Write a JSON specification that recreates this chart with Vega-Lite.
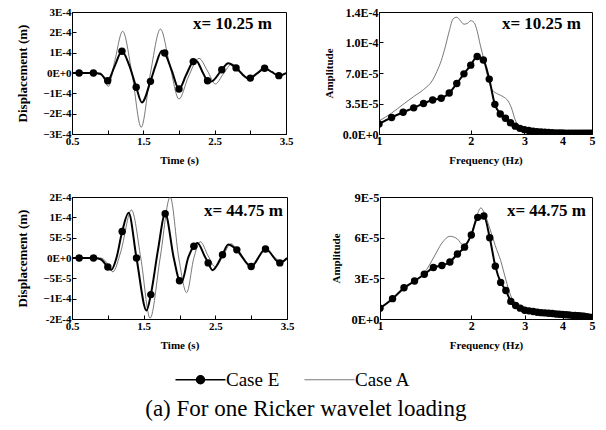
{
  "$schema": "https://vega.github.io/schema/vega-lite/v6.json",
  "padding": {"left": 16, "top": 5, "right": 8, "bottom": 6},
  "background": "white",
  "config": {
    "view": {"stroke": "black", "strokeWidth": 1},
    "axis": {"grid": false, "domainColor": "black", "tickColor": "black", "tickSize": -4, "labelPadding": 5, "labelFont": "Liberation Serif", "labelFontWeight": "bold", "labelFontSize": 11, "labelColor": "black", "titleFont": "Liberation Serif", "titleFontWeight": "bold", "titleFontSize": 11, "titleColor": "black", "labelOverlap": false, "labelFlush": false},
    "legend": {"orient": "none", "legendX": 119, "legendY": 358, "direction": "horizontal", "title": null, "labelFont": "Liberation Serif", "labelFontSize": 19, "labelColor": "black", "symbolSize": 2500, "symbolType": "M-1,0L1,0", "labelOffset": 16, "columnPadding": 22}
  },
  "datasets": {
    "d1": [
      {"t":0.5,"v":0,"case":"Case E"},{"t":0.6,"v":0,"case":"Case E","m":1},{"t":0.8,"v":0,"case":"Case E","m":1},{"t":0.9,"v":-0.05e-4,"case":"Case E"},{"t":1.0,"v":-0.38e-4,"case":"Case E","m":1},{"t":1.1,"v":0.35e-4,"case":"Case E"},{"t":1.2,"v":1.07e-4,"case":"Case E","m":1},{"t":1.3,"v":0.4e-4,"case":"Case E"},{"t":1.4,"v":-0.7e-4,"case":"Case E","m":1},{"t":1.48,"v":-1.45e-4,"case":"Case E"},{"t":1.6,"v":-0.41e-4,"case":"Case E","m":1},{"t":1.67,"v":0.35e-4,"case":"Case E"},{"t":1.76,"v":1.1e-4,"case":"Case E"},{"t":1.8,"v":0.98e-4,"case":"Case E","m":1},{"t":1.9,"v":0.1e-4,"case":"Case E"},{"t":2.0,"v":-0.79e-4,"case":"Case E","m":1},{"t":2.1,"v":-0.1e-4,"case":"Case E"},{"t":2.2,"v":0.56e-4,"case":"Case E","m":1},{"t":2.24,"v":0.6e-4,"case":"Case E"},{"t":2.33,"v":0.05e-4,"case":"Case E"},{"t":2.4,"v":-0.38e-4,"case":"Case E","m":1},{"t":2.45,"v":-0.42e-4,"case":"Case E"},{"t":2.6,"v":0.16e-4,"case":"Case E","m":1},{"t":2.69,"v":0.48e-4,"case":"Case E"},{"t":2.8,"v":0.25e-4,"case":"Case E","m":1},{"t":2.97,"v":-0.27e-4,"case":"Case E"},{"t":3.0,"v":-0.25e-4,"case":"Case E","m":1},{"t":3.1,"v":0,"case":"Case E"},{"t":3.2,"v":0.23e-4,"case":"Case E","m":1},{"t":3.3,"v":0.05e-4,"case":"Case E"},{"t":3.4,"v":-0.13e-4,"case":"Case E","m":1},{"t":3.5,"v":0,"case":"Case E"},
      {"t":0.5,"v":0,"case":"Case A"},{"t":0.9,"v":0,"case":"Case A"},{"t":1.01,"v":-0.66e-4,"case":"Case A"},{"t":1.1,"v":0.6e-4,"case":"Case A"},{"t":1.21,"v":2.05e-4,"case":"Case A"},{"t":1.34,"v":0,"case":"Case A"},{"t":1.47,"v":-2.67e-4,"case":"Case A"},{"t":1.6,"v":0,"case":"Case A"},{"t":1.74,"v":2.16e-4,"case":"Case A"},{"t":1.87,"v":0.4e-4,"case":"Case A"},{"t":2.0,"v":-1.28e-4,"case":"Case A"},{"t":2.13,"v":-0.2e-4,"case":"Case A"},{"t":2.28,"v":0.72e-4,"case":"Case A"},{"t":2.4,"v":0.1e-4,"case":"Case A"},{"t":2.51,"v":-0.54e-4,"case":"Case A"},{"t":2.62,"v":-0.05e-4,"case":"Case A"},{"t":2.74,"v":0.44e-4,"case":"Case A"},{"t":2.87,"v":0.05e-4,"case":"Case A"},{"t":3.0,"v":-0.3e-4,"case":"Case A"},{"t":3.1,"v":-0.05e-4,"case":"Case A"},{"t":3.21,"v":0.2e-4,"case":"Case A"},{"t":3.3,"v":0.05e-4,"case":"Case A"},{"t":3.4,"v":-0.1e-4,"case":"Case A"},{"t":3.5,"v":0,"case":"Case A"}
    ],
    "d2": [
      {"f":1.0,"a":1.15e-5,"case":"Case E"},{"f":1.1,"a":1.9e-5,"case":"Case E"},{"f":1.2,"a":2.5e-5,"case":"Case E"},{"f":1.3,"a":3.0e-5,"case":"Case E"},{"f":1.4,"a":3.5e-5,"case":"Case E"},{"f":1.5,"a":3.9e-5,"case":"Case E"},{"f":1.6,"a":4.1e-5,"case":"Case E"},{"f":1.7,"a":4.7e-5,"case":"Case E"},{"f":1.8,"a":5.8e-5,"case":"Case E"},{"f":1.9,"a":6.9e-5,"case":"Case E"},{"f":2.0,"a":7.9e-5,"case":"Case E"},{"f":2.1,"a":8.9e-5,"case":"Case E"},{"f":2.2,"a":8.5e-5,"case":"Case E"},{"f":2.3,"a":6.3e-5,"case":"Case E"},{"f":2.4,"a":3.4e-5,"case":"Case E"},{"f":2.5,"a":2.3e-5,"case":"Case E"},{"f":2.6,"a":1.8e-5,"case":"Case E"},{"f":2.7,"a":1.3e-5,"case":"Case E"},{"f":2.8,"a":0.9e-5,"case":"Case E"},{"f":2.9,"a":0.65e-5,"case":"Case E"},{"f":3.0,"a":0.5e-5,"case":"Case E"},{"f":3.1,"a":0.4e-5,"case":"Case E"},{"f":3.2,"a":0.32e-5,"case":"Case E"},{"f":3.3,"a":0.27e-5,"case":"Case E"},{"f":3.4,"a":0.22e-5,"case":"Case E"},{"f":3.5,"a":0.2e-5,"case":"Case E"},{"f":3.6,"a":0.17e-5,"case":"Case E"},{"f":3.7,"a":0.15e-5,"case":"Case E"},{"f":3.8,"a":0.13e-5,"case":"Case E"},{"f":3.9,"a":0.12e-5,"case":"Case E"},{"f":4.0,"a":0.11e-5,"case":"Case E"},{"f":4.1,"a":0.1e-5,"case":"Case E"},{"f":4.2,"a":0.1e-5,"case":"Case E"},{"f":4.3,"a":0.09e-5,"case":"Case E"},{"f":4.4,"a":0.09e-5,"case":"Case E"},{"f":4.5,"a":0.08e-5,"case":"Case E"},{"f":4.6,"a":0.08e-5,"case":"Case E"},{"f":4.7,"a":0.08e-5,"case":"Case E"},{"f":4.8,"a":0.08e-5,"case":"Case E"},{"f":4.9,"a":0.08e-5,"case":"Case E"},{"f":5.0,"a":0.08e-5,"case":"Case E"},
      {"f":1.0,"a":1.5e-5,"case":"Case A"},{"f":1.1,"a":2.4e-5,"case":"Case A"},{"f":1.2,"a":3.4e-5,"case":"Case A"},{"f":1.3,"a":4.3e-5,"case":"Case A"},{"f":1.4,"a":5.1e-5,"case":"Case A"},{"f":1.5,"a":6.2e-5,"case":"Case A"},{"f":1.55,"a":7.2e-5,"case":"Case A"},{"f":1.6,"a":8.4e-5,"case":"Case A"},{"f":1.65,"a":10.0e-5,"case":"Case A"},{"f":1.7,"a":11.8e-5,"case":"Case A"},{"f":1.75,"a":13.2e-5,"case":"Case A"},{"f":1.8,"a":13.4e-5,"case":"Case A"},{"f":1.85,"a":13.0e-5,"case":"Case A"},{"f":1.9,"a":12.6e-5,"case":"Case A"},{"f":1.95,"a":12.7e-5,"case":"Case A"},{"f":2.0,"a":13.0e-5,"case":"Case A"},{"f":2.05,"a":12.8e-5,"case":"Case A"},{"f":2.1,"a":11.8e-5,"case":"Case A"},{"f":2.15,"a":10.2e-5,"case":"Case A"},{"f":2.2,"a":8.8e-5,"case":"Case A"},{"f":2.25,"a":7.2e-5,"case":"Case A"},{"f":2.3,"a":5.9e-5,"case":"Case A"},{"f":2.35,"a":5.1e-5,"case":"Case A"},{"f":2.45,"a":4.6e-5,"case":"Case A"},{"f":2.55,"a":4.3e-5,"case":"Case A"},{"f":2.65,"a":3.8e-5,"case":"Case A"},{"f":2.72,"a":3.0e-5,"case":"Case A"},{"f":2.8,"a":1.6e-5,"case":"Case A"},{"f":2.9,"a":0.8e-5,"case":"Case A"},{"f":3.0,"a":0.5e-5,"case":"Case A"},{"f":3.2,"a":0.3e-5,"case":"Case A"},{"f":3.6,"a":0.12e-5,"case":"Case A"},{"f":4.0,"a":0.08e-5,"case":"Case A"},{"f":5.0,"a":0.05e-5,"case":"Case A"}
    ],
    "d3": [
      {"t":0.5,"v":0,"case":"Case E"},{"t":0.6,"v":0,"case":"Case E","m":1},{"t":0.8,"v":0,"case":"Case E","m":1},{"t":0.9,"v":-0.3e-5,"case":"Case E"},{"t":1.0,"v":-2.2e-5,"case":"Case E","m":1},{"t":1.05,"v":-2.9e-5,"case":"Case E"},{"t":1.12,"v":0,"case":"Case E"},{"t":1.2,"v":6.5e-5,"case":"Case E","m":1},{"t":1.29,"v":11.1e-5,"case":"Case E"},{"t":1.4,"v":0,"case":"Case E","m":1},{"t":1.54,"v":-12.9e-5,"case":"Case E"},{"t":1.6,"v":-9.0e-5,"case":"Case E","m":1},{"t":1.7,"v":2.0e-5,"case":"Case E"},{"t":1.8,"v":10.9e-5,"case":"Case E","m":1},{"t":1.92,"v":0,"case":"Case E"},{"t":2.0,"v":-5.6e-5,"case":"Case E","m":1},{"t":2.03,"v":-5.9e-5,"case":"Case E"},{"t":2.12,"v":0,"case":"Case E"},{"t":2.2,"v":2.9e-5,"case":"Case E","m":1},{"t":2.25,"v":3.7e-5,"case":"Case E"},{"t":2.35,"v":0.5e-5,"case":"Case E"},{"t":2.4,"v":-1.2e-5,"case":"Case E","m":1},{"t":2.46,"v":-3.0e-5,"case":"Case E"},{"t":2.6,"v":0.8e-5,"case":"Case E","m":1},{"t":2.68,"v":3.3e-5,"case":"Case E"},{"t":2.8,"v":2.0e-5,"case":"Case E","m":1},{"t":3.0,"v":-2.1e-5,"case":"Case E","m":1},{"t":3.2,"v":2.2e-5,"case":"Case E","m":1},{"t":3.4,"v":-1.2e-5,"case":"Case E","m":1},{"t":3.5,"v":0,"case":"Case E"},
      {"t":0.5,"v":0,"case":"Case A"},{"t":0.9,"v":0,"case":"Case A"},{"t":0.97,"v":-0.8e-5,"case":"Case A"},{"t":1.07,"v":-3.4e-5,"case":"Case A"},{"t":1.18,"v":1.5e-5,"case":"Case A"},{"t":1.33,"v":11.8e-5,"case":"Case A"},{"t":1.46,"v":0,"case":"Case A"},{"t":1.59,"v":-14.8e-5,"case":"Case A"},{"t":1.73,"v":0,"case":"Case A"},{"t":1.87,"v":15.0e-5,"case":"Case A"},{"t":1.99,"v":0,"case":"Case A"},{"t":2.1,"v":-8.5e-5,"case":"Case A"},{"t":2.2,"v":0,"case":"Case A"},{"t":2.29,"v":4.0e-5,"case":"Case A"},{"t":2.4,"v":0.5e-5,"case":"Case A"},{"t":2.5,"v":-2.2e-5,"case":"Case A"},{"t":2.6,"v":0.3e-5,"case":"Case A"},{"t":2.72,"v":3.5e-5,"case":"Case A"},{"t":2.86,"v":0.3e-5,"case":"Case A"},{"t":3.0,"v":-1.7e-5,"case":"Case A"},{"t":3.1,"v":0.2e-5,"case":"Case A"},{"t":3.22,"v":2.0e-5,"case":"Case A"},{"t":3.32,"v":0.3e-5,"case":"Case A"},{"t":3.43,"v":-0.9e-5,"case":"Case A"},{"t":3.5,"v":-0.2e-5,"case":"Case A"}
    ],
    "d4": [
      {"f":1.0,"a":0.8e-5,"case":"Case E"},{"f":1.1,"a":1.5e-5,"case":"Case E"},{"f":1.2,"a":2.3e-5,"case":"Case E"},{"f":1.3,"a":2.8e-5,"case":"Case E"},{"f":1.4,"a":3.3e-5,"case":"Case E"},{"f":1.5,"a":3.8e-5,"case":"Case E"},{"f":1.6,"a":3.95e-5,"case":"Case E"},{"f":1.7,"a":4.2e-5,"case":"Case E"},{"f":1.8,"a":4.8e-5,"case":"Case E"},{"f":1.9,"a":5.3e-5,"case":"Case E"},{"f":2.0,"a":6.2e-5,"case":"Case E"},{"f":2.1,"a":7.5e-5,"case":"Case E"},{"f":2.2,"a":7.6e-5,"case":"Case E"},{"f":2.3,"a":6.0e-5,"case":"Case E"},{"f":2.4,"a":3.9e-5,"case":"Case E"},{"f":2.5,"a":2.7e-5,"case":"Case E"},{"f":2.6,"a":2.1e-5,"case":"Case E"},{"f":2.7,"a":1.3e-5,"case":"Case E"},{"f":2.8,"a":1.0e-5,"case":"Case E"},{"f":2.9,"a":0.8e-5,"case":"Case E"},{"f":3.0,"a":0.65e-5,"case":"Case E"},{"f":3.1,"a":0.6e-5,"case":"Case E"},{"f":3.2,"a":0.55e-5,"case":"Case E"},{"f":3.3,"a":0.5e-5,"case":"Case E"},{"f":3.4,"a":0.47e-5,"case":"Case E"},{"f":3.5,"a":0.45e-5,"case":"Case E"},{"f":3.6,"a":0.42e-5,"case":"Case E"},{"f":3.7,"a":0.4e-5,"case":"Case E"},{"f":3.8,"a":0.37e-5,"case":"Case E"},{"f":3.9,"a":0.35e-5,"case":"Case E"},{"f":4.0,"a":0.33e-5,"case":"Case E"},{"f":4.1,"a":0.31e-5,"case":"Case E"},{"f":4.2,"a":0.29e-5,"case":"Case E"},{"f":4.3,"a":0.27e-5,"case":"Case E"},{"f":4.4,"a":0.26e-5,"case":"Case E"},{"f":4.5,"a":0.24e-5,"case":"Case E"},{"f":4.6,"a":0.22e-5,"case":"Case E"},{"f":4.7,"a":0.2e-5,"case":"Case E"},{"f":4.8,"a":0.17e-5,"case":"Case E"},{"f":4.9,"a":0.14e-5,"case":"Case E"},{"f":5.0,"a":0.12e-5,"case":"Case E"},
      {"f":1.0,"a":0.8e-5,"case":"Case A"},{"f":1.1,"a":1.45e-5,"case":"Case A"},{"f":1.2,"a":2.2e-5,"case":"Case A"},{"f":1.3,"a":2.8e-5,"case":"Case A"},{"f":1.4,"a":3.4e-5,"case":"Case A"},{"f":1.5,"a":4.5e-5,"case":"Case A"},{"f":1.6,"a":5.6e-5,"case":"Case A"},{"f":1.7,"a":6.1e-5,"case":"Case A"},{"f":1.8,"a":5.9e-5,"case":"Case A"},{"f":1.87,"a":5.5e-5,"case":"Case A"},{"f":1.95,"a":5.7e-5,"case":"Case A"},{"f":2.0,"a":6.3e-5,"case":"Case A"},{"f":2.1,"a":7.8e-5,"case":"Case A"},{"f":2.15,"a":8.2e-5,"case":"Case A"},{"f":2.2,"a":7.9e-5,"case":"Case A"},{"f":2.3,"a":6.7e-5,"case":"Case A"},{"f":2.4,"a":5.4e-5,"case":"Case A"},{"f":2.5,"a":4.3e-5,"case":"Case A"},{"f":2.6,"a":2.9e-5,"case":"Case A"},{"f":2.7,"a":1.7e-5,"case":"Case A"},{"f":2.8,"a":1.1e-5,"case":"Case A"},{"f":3.0,"a":0.7e-5,"case":"Case A"},{"f":3.5,"a":0.45e-5,"case":"Case A"},{"f":4.0,"a":0.33e-5,"case":"Case A"},{"f":4.5,"a":0.25e-5,"case":"Case A"},{"f":5.0,"a":0.15e-5,"case":"Case A"}
    ]
  },
  "vconcat": [
    {
      "hconcat": [
        {
          "width": 214, "height": 122,
          "title": {"text": "x= 10.25 m", "orient": "top", "anchor": "end", "frame": "group", "offset": -27, "dx": -14, "font": "Liberation Serif", "fontWeight": "bold", "fontSize": 17, "color": "black"},
          "data": {"name": "d1"},
          "encoding": {
            "x": {"field": "t", "type": "quantitative", "scale": {"domain": [0.5, 3.5], "nice": false}, "axis": {"title": "Time (s)", "values": [0.5, 1, 1.5, 2, 2.5, 3, 3.5], "labelExpr": "datum.value % 1 == 0.5 ? format(datum.value, '.1f') : ''", "titlePadding": 8}},
            "y": {"field": "v", "type": "quantitative", "scale": {"domain": [-0.0003, 0.0003], "nice": false}, "axis": {"title": "Displacement (m)", "titleFontSize": 13, "values": [-0.0003, -0.0002, -0.0001, 0, 0.0001, 0.0002, 0.0003], "labelExpr": "upper(format(datum.value, '.0e'))", "titlePadding": 13}}
          },
          "layer": [
            {"transform": [{"filter": "datum.case == 'Case A'"}], "mark": {"type": "line", "strokeWidth": 0.8, "interpolate": "monotone", "clip": true},
             "encoding": {"color": {"field": "case", "type": "nominal", "scale": {"domain": ["Case E", "Case A"], "range": ["#000000", "#555555"]}, "legend": {"encode": {"symbols": {"update": {"shape": {"signal": "datum.value === 'Case E' ? 'M-1,0L1,0M0.16,0A0.16,0.16,0,1,1,-0.16,0A0.16,0.16,0,1,1,0.16,0' : 'M-1,0L1,0'"}, "fill": {"signal": "datum.value === 'Case E' ? '#000000' : 'transparent'"}, "strokeWidth": {"signal": "datum.value === 'Case E' ? 1.5 : 0.8"}}}}}}}},
            {"transform": [{"filter": "datum.case == 'Case E'"}], "mark": {"type": "line", "strokeWidth": 2, "interpolate": "monotone", "clip": true},
             "encoding": {"color": {"field": "case", "type": "nominal"}}},
            {"transform": [{"filter": "datum.m == 1"}], "mark": {"type": "point", "filled": true, "size": 55, "color": "black", "opacity": 1}}
          ]
        },
        {
          "width": 213, "height": 122,
          "title": {"text": "x= 10.25 m", "orient": "top", "anchor": "end", "frame": "group", "offset": -27, "dx": -11, "font": "Liberation Serif", "fontWeight": "bold", "fontSize": 17, "color": "black"},
          "data": {"name": "d2"},
          "encoding": {
            "x": {"field": "f", "type": "quantitative", "scale": {"type": "log", "domain": [1, 5], "nice": false}, "axis": {"title": "Frequency (Hz)", "values": [1, 2, 3, 4, 5], "format": "d", "labelFontSize": 12, "titlePadding": 8}},
            "y": {"field": "a", "type": "quantitative", "scale": {"domain": [0, 0.00014], "nice": false}, "axis": {"title": "Amplitude", "values": [0, 0.000035, 0.00007, 0.000105, 0.00014], "labelFontSize": 12, "labelExpr": "datum.value > 0.0001 && datum.value < 0.00011 ? '1.0E-4' : upper(format(datum.value, '.1e'))", "titlePadding": 8}}
          },
          "layer": [
            {"transform": [{"filter": "datum.case == 'Case A'"}], "mark": {"type": "line", "strokeWidth": 0.8, "interpolate": "monotone", "clip": true},
             "encoding": {"color": {"field": "case", "type": "nominal"}}},
            {"transform": [{"filter": "datum.case == 'Case E'"}], "mark": {"type": "line", "strokeWidth": 2, "interpolate": "monotone", "clip": true},
             "encoding": {"color": {"field": "case", "type": "nominal"}}},
            {"transform": [{"filter": "datum.case == 'Case E'"}], "mark": {"type": "point", "filled": true, "size": 55, "color": "black", "opacity": 1, "clip": true}}
          ]
        }
      ],
      "spacing": 93, "bounds": "flush"
    },
    {
      "hconcat": [
        {
          "width": 215, "height": 122,
          "title": {"text": "x= 44.75 m", "orient": "top", "anchor": "end", "frame": "group", "offset": -29, "dx": -4, "font": "Liberation Serif", "fontWeight": "bold", "fontSize": 17, "color": "black"},
          "data": {"name": "d3"},
          "encoding": {
            "x": {"field": "t", "type": "quantitative", "scale": {"domain": [0.5, 3.5], "nice": false}, "axis": {"title": "Time (s)", "values": [0.5, 1, 1.5, 2, 2.5, 3, 3.5], "labelExpr": "datum.value % 1 == 0.5 ? format(datum.value, '.1f') : ''", "titlePadding": 8}},
            "y": {"field": "v", "type": "quantitative", "scale": {"domain": [-0.00015, 0.00015], "nice": false}, "axis": {"title": "Displacement (m)", "titleFontSize": 13, "values": [-0.00015, -0.0001, -0.00005, 0, 0.00005, 0.0001, 0.00015], "labelExpr": "datum.value > 0.00012 ? '2E-4' : datum.value < -0.00012 ? '-2E-4' : upper(format(datum.value, '.0e'))", "titlePadding": 13}}
          },
          "layer": [
            {"transform": [{"filter": "datum.case == 'Case A'"}], "mark": {"type": "line", "strokeWidth": 0.8, "interpolate": "monotone", "clip": true},
             "encoding": {"color": {"field": "case", "type": "nominal"}}},
            {"transform": [{"filter": "datum.case == 'Case E'"}], "mark": {"type": "line", "strokeWidth": 2, "interpolate": "monotone", "clip": true},
             "encoding": {"color": {"field": "case", "type": "nominal"}}},
            {"transform": [{"filter": "datum.m == 1"}], "mark": {"type": "point", "filled": true, "size": 55, "color": "black", "opacity": 1}}
          ]
        },
        {
          "width": 212, "height": 122,
          "title": {"text": "x= 44.75 m", "orient": "top", "anchor": "end", "frame": "group", "offset": -29, "dx": -6, "font": "Liberation Serif", "fontWeight": "bold", "fontSize": 17, "color": "black"},
          "data": {"name": "d4"},
          "encoding": {
            "x": {"field": "f", "type": "quantitative", "scale": {"type": "log", "domain": [1, 5], "nice": false}, "axis": {"title": "Frequency (Hz)", "values": [1, 2, 3, 4, 5], "format": "d", "labelFontSize": 12, "titlePadding": 8}},
            "y": {"field": "a", "type": "quantitative", "scale": {"domain": [0, 0.00009], "nice": false}, "axis": {"title": "Amplitude", "values": [0, 0.00003, 0.00006, 0.00009], "labelFontSize": 12.5, "labelExpr": "upper(format(datum.value, '.0e'))", "titlePadding": 10}}
          },
          "layer": [
            {"transform": [{"filter": "datum.case == 'Case A'"}], "mark": {"type": "line", "strokeWidth": 0.8, "interpolate": "monotone", "clip": true},
             "encoding": {"color": {"field": "case", "type": "nominal"}}},
            {"transform": [{"filter": "datum.case == 'Case E'"}], "mark": {"type": "line", "strokeWidth": 2, "interpolate": "monotone", "clip": true},
             "encoding": {"color": {"field": "case", "type": "nominal"}}},
            {"transform": [{"filter": "datum.case == 'Case E'"}], "mark": {"type": "point", "filled": true, "size": 55, "color": "black", "opacity": 1, "clip": true}}
          ]
        }
      ],
      "spacing": 93, "bounds": "flush"
    }
  ],
  "spacing": 24,
  "title": {"text": "(a) For one Ricker wavelet loading", "orient": "bottom", "anchor": "middle", "font": "Liberation Serif", "fontSize": 23, "fontWeight": "normal", "color": "black", "offset": 8}
}
